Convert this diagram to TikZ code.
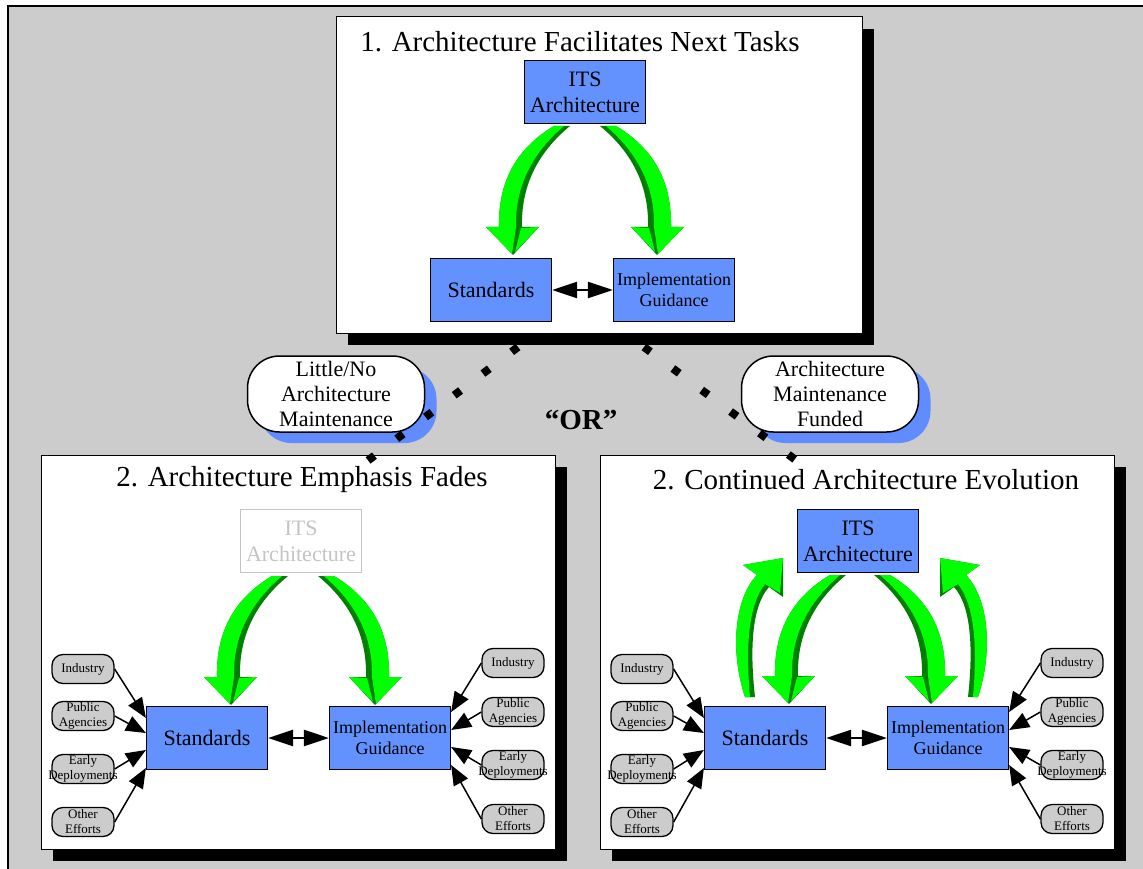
\documentclass[tikz,border=0pt]{standalone}
\usepackage{fontspec}
\setmainfont{Liberation Serif}
\usetikzlibrary{arrows.meta,shadows}
\definecolor{bggray}{RGB}{204,204,204}
\definecolor{boxblue}{RGB}{99,146,255}
\definecolor{noteblue}{RGB}{96,140,255}
\definecolor{litegreen}{RGB}{0,255,0}
\definecolor{darkgreen}{RGB}{0,128,0}
\definecolor{fadegray}{RGB}{196,196,196}
\newcommand{\fsz}[2]{\fontsize{#1}{#2}\selectfont}

\begin{document}
\begin{tikzpicture}[x=1pt,y=-1pt,
  panel/.style={draw,fill=white,line width=1pt,minimum width=514pt,minimum height=394pt,inner sep=0pt,
    drop shadow={shadow xshift=12pt,shadow yshift=-12pt,fill=black,opacity=1}},
  ptitle/.style={font=\fsz{29}{34}},
  box/.style={draw,fill=boxblue,line width=1.2pt,minimum width=121pt,minimum height=63pt,align=center,inner sep=1pt,font=\fsz{22}{26}},
  guide/.style={box,font=\fsz{18}{21}},
  faded/.style={box,draw=fadegray,fill=white,text=fadegray},
  note/.style={draw,fill=white,line width=1.5pt,rounded corners=32pt,minimum width=177pt,minimum height=76pt,align=center,inner sep=0pt,font=\fsz{22}{25},
    drop shadow={shadow xshift=12pt,shadow yshift=-11pt,fill=noteblue,opacity=1}},
  src/.style={draw,fill=bggray,line width=1.3pt,rounded corners=11pt,minimum width=62pt,minimum height=29pt,align=center,inner sep=0pt,font=\fsz{13}{15}},
  feed/.style={line width=1.5pt,-{Triangle[length=20pt,width=16pt]}},
  both/.style={line width=2.5pt,{Triangle[length=25pt,width=16pt]}-{Triangle[length=25pt,width=16pt]}},
  dotlink/.style={line width=8pt,dash pattern=on 8pt off 28pt},
  sweepdown/.pic={
    \fill[darkgreen] (-8,0) .. controls (-45,22) and (-64,55) .. (-63,101) -- (-76,101) -- (-49,129) -- (-23,101) -- (-40,101) .. controls (-41,62) and (-26,28) .. (8,0) -- cycle;
    \fill[litegreen] (-8,0) .. controls (-45,22) and (-64,55) .. (-63,101) -- (-76,101) -- (-50,128) -- (-46,101) .. controls (-47,62) and (-31,28) .. (2,0) -- cycle;
    \fill[litegreen] (-41,102) -- (-23,101) -- (-47,126) -- cycle;
  },
  sweepup/.pic={
    \fill[darkgreen] (-5,0) .. controls (-20,-45) and (-16,-98) .. (7,-122) -- (-7,-132) -- (33,-139) -- (33,-100) -- (19,-110) .. controls (1,-90) and (0,-45) .. (5,0) -- cycle;
    \fill[litegreen] (-5,0) .. controls (-20,-45) and (-16,-98) .. (7,-122) -- (-7,-132) -- (33,-139) -- (30,-104) -- (15,-113) .. controls (-3,-90) and (-4,-45) .. (0,0) -- cycle;
  }]
\useasboundingbox (0,0) rectangle (1143,869);
\fill[bggray] (8,6) rectangle (1160,880);
\draw[line width=2pt] (8,880) -- (8,6) -- (1160,6);

\node[panel,minimum width=526pt,minimum height=316pt] (top) at (599,175) {};
\node[panel] (fade) at (298,652) {};
\node[panel] (grow) at (857,652) {};

\node[note] (nofund) at (336,394) {Little/No\\Architecture\\Maintenance};
\node[note] (fund) at (830,394) {Architecture\\Maintenance\\Funded};

\coordinate (l1) at (518,347);
\coordinate (l2) at (366,462);
\coordinate (r1) at (644,347);
\coordinate (r2) at (797,461);
\draw[dotlink] (l1) -- (l2);
\draw[dotlink] (r1) -- (r2);
\node[font=\bfseries\fsz{29}{34}] (or) at (581,420) {“OR”};

% top
\node[ptitle] (t1) at (580,42) {1. Architecture Facilitates Next Tasks};
\node[box] (its1) at (585,92) {ITS\\Architecture};
\node[box] (std1) at (491,290) {Standards};
\node[guide] (imp1) at (674,290) {Implementation\\Guidance};
\pic at (562,126) {sweepdown};
\pic[xscale=-1] at (608,126) {sweepdown};
\draw[both] (std1) -- (imp1);

% bottom left
\node[ptitle] (t2) at (302,480) {2. Architecture Emphasis Fades};
\node[faded] (its2) at (301,541) {ITS\\Architecture};
\node[box] (std2) at (207,738) {Standards};
\node[guide] (imp2) at (390,738) {Implementation\\Guidance};
\pic at (280,576) {sweepdown};
\pic[xscale=-1] at (326,576) {sweepdown};
\draw[both] (std2) -- (imp2);

\node[src] (ind2a) at (83,669) {Industry};
\node[src] (pub2a) at (83,716) {Public\\Agencies};
\node[src] (ear2a) at (83,769) {Early\\\makebox[0pt]{Deployments}};
\node[src] (oth2a) at (83,822) {Other\\Efforts};
\node[src] (ind2b) at (513,663) {Industry};
\node[src] (pub2b) at (513,712) {Public\\Agencies};
\node[src] (ear2b) at (513,765) {Early\\\makebox[0pt]{Deployments}};
\node[src] (oth2b) at (513,819) {Other\\Efforts};
\draw[feed] (ind2a.east) -- ([yshift=20pt]std2.west);
\draw[feed] (pub2a.east) -- ([yshift=5pt]std2.west);
\draw[feed] (ear2a.east) -- ([yshift=-12pt]std2.west);
\draw[feed] (oth2a.east) -- ([yshift=-30pt]std2.west);
\draw[feed] (ind2b.west) -- ([yshift=26pt]imp2.east);
\draw[feed] (pub2b.west) -- ([yshift=8pt]imp2.east);
\draw[feed] (ear2b.west) -- ([yshift=-9pt]imp2.east);
\draw[feed] (oth2b.west) -- ([yshift=-27pt]imp2.east);

% bottom right
\node[ptitle] (t3) at (866,480) {2. Continued Architecture Evolution};
\node[box] (its3) at (858,541) {ITS\\Architecture};
\node[box] (std3) at (765,738) {Standards};
\node[guide] (imp3) at (948,738) {Implementation\\Guidance};
\pic at (838,575) {sweepdown};
\pic[xscale=-1] at (882,575) {sweepdown};
\pic at (750,697) {sweepup};
\pic[xscale=-1] at (973,697) {sweepup};
\draw[both] (std3) -- (imp3);

\node[src] (ind3a) at (642,669) {Industry};
\node[src] (pub3a) at (642,716) {Public\\Agencies};
\node[src] (ear3a) at (642,769) {Early\\\makebox[0pt]{Deployments}};
\node[src] (oth3a) at (642,822) {Other\\Efforts};
\node[src] (ind3b) at (1072,663) {Industry};
\node[src] (pub3b) at (1072,712) {Public\\Agencies};
\node[src] (ear3b) at (1072,765) {Early\\\makebox[0pt]{Deployments}};
\node[src] (oth3b) at (1072,819) {Other\\Efforts};
\draw[feed] (ind3a.east) -- ([yshift=20pt]std3.west);
\draw[feed] (pub3a.east) -- ([yshift=5pt]std3.west);
\draw[feed] (ear3a.east) -- ([yshift=-12pt]std3.west);
\draw[feed] (oth3a.east) -- ([yshift=-30pt]std3.west);
\draw[feed] (ind3b.west) -- ([yshift=26pt]imp3.east);
\draw[feed] (pub3b.west) -- ([yshift=8pt]imp3.east);
\draw[feed] (ear3b.west) -- ([yshift=-9pt]imp3.east);
\draw[feed] (oth3b.west) -- ([yshift=-27pt]imp3.east);
\end{tikzpicture}
\end{document}
